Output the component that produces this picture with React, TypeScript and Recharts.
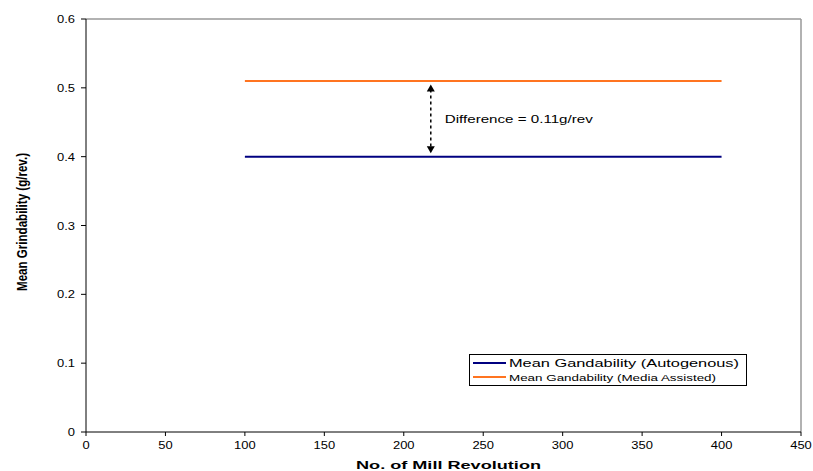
import {
  LineChart,
  Line,
  XAxis,
  YAxis,
  ReferenceLine,
  Legend,
} from "recharts";

const revolutions = [100, 200, 300, 400];
const autogenous = [0.4, 0.4, 0.4, 0.4];
const mediaAssisted = [0.51, 0.51, 0.51, 0.51];
const xTicks = [0, 50, 100, 150, 200, 250, 300, 350, 400, 450];
const yTicks = [0, 0.1, 0.2, 0.3, 0.4, 0.5, 0.6];
const diffX = 217;
const diffText = "Difference = 0.11g/rev";

const data = revolutions.map((r, i) => ({
  rev: r,
  auto: autogenous[i],
  media: mediaAssisted[i],
}));

const font = "'Liberation Sans', Arial, sans-serif";
const blue = "#000080";
const orange = "#FF7420";

// the source renders its text wide, so stretch numbers to that width
const numWidth = (s: string) =>
  s.split("").reduce((w, c) => w + (c === "." ? 3.6 : 7.2), 0);

function XTick(props: any) {
  const { x, y, payload } = props;
  const s = String(payload.value);
  return (
    <text
      x={x}
      y={y + 9}
      textAnchor="middle"
      fontSize={10}
      fontFamily={font}
      fill="#000"
      textLength={numWidth(s)}
      lengthAdjust="spacingAndGlyphs"
    >
      {s}
    </text>
  );
}

function YTick(props: any) {
  const { x, y, payload } = props;
  const v = payload.value as number;
  const s = v === 0 ? "0" : v.toFixed(1);
  return (
    <text
      x={x}
      y={y + 4}
      textAnchor="end"
      fontSize={10}
      fontFamily={font}
      fill="#000"
      textLength={numWidth(s)}
      lengthAdjust="spacingAndGlyphs"
    >
      {s}
    </text>
  );
}

function DiffArrow(props: any) {
  const { x1, y1, x2, y2 } = props;
  const top = Math.min(y1, y2);
  const bot = Math.max(y1, y2);
  return (
    <g>
      <line
        x1={x1}
        y1={top + 5}
        x2={x2}
        y2={bot - 5}
        stroke="#000"
        strokeWidth={1.5}
        strokeDasharray="3 3"
      />
      <polygon
        points={`${x1},${top} ${x1 - 4},${top + 7} ${x1 + 4},${top + 7}`}
        fill="#000"
      />
      <polygon
        points={`${x1},${bot} ${x1 - 4},${bot - 7} ${x1 + 4},${bot - 7}`}
        fill="#000"
      />
      <text
        x={x1 + 14}
        y={(top + bot) / 2 + 4}
        fontSize={10.5}
        fontFamily={font}
        fill="#000"
        textLength={148}
        lengthAdjust="spacingAndGlyphs"
      >
        {diffText}
      </text>
    </g>
  );
}

function LegendBox() {
  return (
    <svg width={278} height={32} style={{ display: "block" }}>
      <rect x={0.5} y={0.5} width={277} height={31} fill="#fff" stroke="#000" />
      <line x1={4} y1={9} x2={37} y2={9} stroke={blue} strokeWidth={2} />
      <text
        x={40}
        y={13}
        fontSize={11.5}
        fontFamily={font}
        fill="#000"
        textLength={230}
        lengthAdjust="spacingAndGlyphs"
      >
        Mean Gandability (Autogenous)
      </text>
      <line x1={4} y1={23} x2={37} y2={23} stroke={orange} strokeWidth={2} />
      <text
        x={40}
        y={26.5}
        fontSize={9.5}
        fontFamily={font}
        fill="#000"
        textLength={207}
        lengthAdjust="spacingAndGlyphs"
      >
        Mean Gandability (Media Assisted)
      </text>
    </svg>
  );
}

export default function App() {
  return (
    <div style={{ position: "absolute", left: 0, top: 0 }}>
      <LineChart
        width={813}
        height={471}
        data={data}
        margin={{ top: 19, right: 12, bottom: 0, left: 0 }}
      >
        <XAxis
          dataKey="rev"
          type="number"
          domain={[0, 450]}
          ticks={xTicks}
          interval={0}
          height={39}
          stroke="#000"
          tick={<XTick />}
          tickSize={4}
          tickMargin={4}
          label={(p: any) => (
            <text
              x={356}
              y={469}
              fontSize={11.5}
              fontWeight="bold"
              fontFamily={font}
              fill="#000"
              textLength={185}
              lengthAdjust="spacingAndGlyphs"
            >
              No. of Mill Revolution
            </text>
          )}
        />
        <YAxis
          type="number"
          domain={[0, 0.6]}
          ticks={yTicks}
          interval={0}
          width={86}
          stroke="#000"
          tick={<YTick />}
          tickSize={5}
          tickMargin={6}
          label={(p: any) => (
            <text
              transform="translate(27,222) rotate(-90)"
              textAnchor="middle"
              fontSize={15}
              fontWeight="bold"
              fontFamily={font}
              fill="#000"
              textLength={138}
              lengthAdjust="spacingAndGlyphs"
            >
              Mean Grindability (g/rev.)
            </text>
          )}
        />
        <ReferenceLine y={0.6} stroke="#999" strokeWidth={1.5} />
        <ReferenceLine x={450} stroke="#999" strokeWidth={1.5} />
        <Line
          dataKey="auto"
          stroke={blue}
          strokeWidth={2}
          dot={false}
          isAnimationActive={false}
        />
        <Line
          dataKey="media"
          stroke={orange}
          strokeWidth={2}
          dot={false}
          isAnimationActive={false}
        />
        <ReferenceLine
          segment={[
            { x: diffX, y: 0.505 },
            { x: diffX, y: 0.405 },
          ]}
          shape={DiffArrow}
        />
        <Legend
          layout="horizontal"
          verticalAlign="middle"
          align="center"
          content={() => <LegendBox />}
          wrapperStyle={{ left: 469, top: 354, width: 278, bottom: "auto" }}
        />
      </LineChart>
    </div>
  );
}
